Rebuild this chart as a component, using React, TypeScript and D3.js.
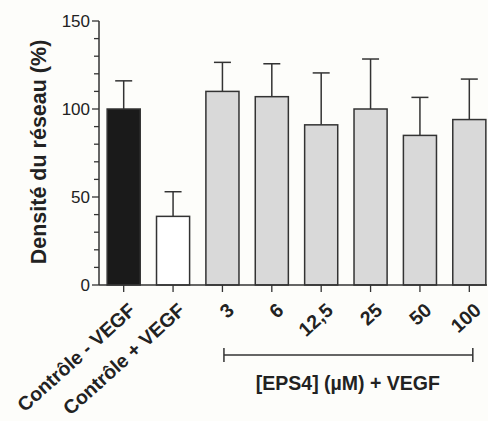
import React from "react";
import * as d3 from "d3";

const categories = ["Contrôle - VEGF", "Contrôle + VEGF", "3", "6", "12,5", "25", "50", "100"];
const means = [100, 39, 110, 107, 91, 100, 85, 94];
const errTops = [116, 53, 126.5, 125.7, 120.5, 128.4, 106.6, 117];
const fills = ["#1a1a1a", "#ffffff", "#d9d9d9", "#d9d9d9", "#d9d9d9", "#d9d9d9", "#d9d9d9", "#d9d9d9"];
const majorTicks = [0, 50, 100, 150];
const minorTicks = d3.range(0, 151, 10);
const yLabel = "Densité du réseau (%)";
const groupLabel = "[EPS4] (µM) + VEGF";

const W = 488, H = 421;
const FONT = "Arial, 'Liberation Sans', sans-serif";

export default function App() {
  const y = d3.scaleLinear().domain([0, 150]).range([285, 21]);
  const x = d3.scaleBand<string>().domain(categories).range([99, 494]).paddingInner(0.33).paddingOuter(0.165);
  const bw = x.bandwidth();
  const stroke = "#333";
  const cx = (c: string) => (x(c) as number) + bw / 2;
  const first = cx(categories[2]);
  const last = cx(categories[7]);
  return (
    <svg width={W} height={H} style={{ position: "absolute", left: 0, top: 0, background: "#fdfdfa" }} fontFamily={FONT}>
      <rect width={W} height={H} fill="#fdfdfa" />
      {categories.map((c, i) => (
        <g key={c}>
          <line x1={cx(c)} x2={cx(c)} y1={y(means[i])} y2={y(errTops[i])} stroke={stroke} strokeWidth={1.5} />
          <line x1={cx(c) - 8.5} x2={cx(c) + 8.5} y1={y(errTops[i])} y2={y(errTops[i])} stroke={stroke} strokeWidth={1.5} />
          <rect x={x(c)} y={y(means[i])} width={bw} height={y(0) - y(means[i])} fill={fills[i]} stroke={stroke} strokeWidth={1.5} />
        </g>
      ))}
      <line x1={99} x2={99} y1={y(150)} y2={y(0)} stroke={stroke} strokeWidth={1.5} />
      {minorTicks.map((t) => (
        <line key={t} x1={majorTicks.includes(t) ? 92 : 94} x2={99} y1={y(t)} y2={y(t)} stroke={stroke} strokeWidth={1.3} />
      ))}
      {majorTicks.map((t) => (
        <text key={t} x={90} y={y(t)} dy="0.35em" textAnchor="end" fontSize={17} fill="#222">{t}</text>
      ))}
      <text transform={`translate(46,152) rotate(-90)`} textAnchor="middle" fontSize={21.5} fontWeight="bold" fill="#222">{yLabel}</text>
      <line x1={99} x2={487} y1={y(0)} y2={y(0)} stroke={stroke} strokeWidth={1.5} />
      {categories.map((c) => (
        <line key={c} x1={cx(c)} x2={cx(c)} y1={y(0)} y2={y(0) + 7} stroke={stroke} strokeWidth={1.3} />
      ))}
      {categories.map((c) => (
        <text key={c} transform={`translate(${cx(c) + 13},${y(0) + 27}) rotate(-42)`} textAnchor="end" fontSize={19.5} fontWeight="bold" fill="#222">{c}</text>
      ))}
      <line x1={first + 1.5} x2={last + 3.5} y1={355} y2={355} stroke={stroke} strokeWidth={1.5} />
      <line x1={first + 1.5} x2={first + 1.5} y1={348} y2={362} stroke={stroke} strokeWidth={1.5} />
      <line x1={last + 3.5} x2={last + 3.5} y1={348} y2={362} stroke={stroke} strokeWidth={1.5} />
      <text x={(first + last) / 2 + 2} y={390} textAnchor="middle" fontSize={19.5} fontWeight="bold" fill="#222">{groupLabel}</text>
    </svg>
  );
}
